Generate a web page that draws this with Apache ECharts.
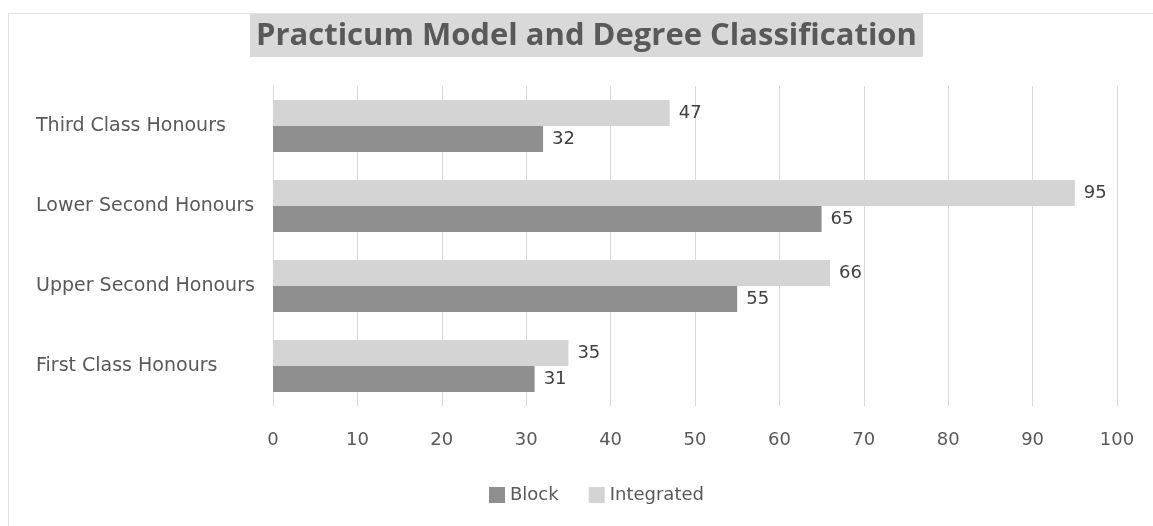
<!DOCTYPE html>
<html><head><meta charset="utf-8">
<script src="https://cdn.jsdelivr.net/npm/echarts@6/dist/echarts.min.js"></script>
<style>html,body{margin:0;padding:0;background:#fff}#c{width:1153px;height:526px}
#frame{position:absolute;left:8px;top:13px;width:1160px;height:540px;border:1px solid #e3e3e3;pointer-events:none}</style>
</head><body><div id="c"></div><div id="frame"></div>
<script>
const categories = ["First Class Honours", "Upper Second Honours", "Lower Second Honours", "Third Class Honours"];
const blockValues = [31, 55, 65, 32];
const integratedValues = [35, 66, 95, 47];
const xTicks = {min: 0, max: 100, interval: 10};
const titleText = "Practicum Model and Degree Classification";

const chart = echarts.init(document.getElementById('c'));
const font = '"Open Sans", "Noto Sans", sans-serif';
const font2 = '"DejaVu Sans", sans-serif';
const labelStyle = {show: true, position: 'right', distance: 9, fontFamily: font2, fontSize: 18, color: '#404040'};
chart.setOption({
  animation: false,
  backgroundColor: '#ffffff',
  title: {
    text: titleText, left: 250, top: 13,
    backgroundColor: '#d9d9d9', padding: [7, 6, 4, 6],
    textStyle: {fontFamily: font, fontSize: 31, fontWeight: 'bold', color: '#595959', lineHeight: 33}
  },
  legend: {
    top: 481, left: 484, icon: 'rect', itemWidth: 16, itemHeight: 16, itemGap: 30,
    textStyle: {fontFamily: font2, fontSize: 18, color: '#595959'},
    data: ['Block', 'Integrated']
  },
  grid: {left: 273, right: 36, top: 86, bottom: 120},
  xAxis: {
    type: 'value', min: xTicks.min, max: xTicks.max, interval: xTicks.interval,
    axisLine: {show: false}, axisTick: {show: false},
    splitLine: {lineStyle: {color: '#d9d9d9', width: 1}},
    axisLabel: {fontFamily: font2, fontSize: 18, color: '#595959', margin: 25}
  },
  yAxis: {
    type: 'category', data: categories,
    axisLine: {show: true, lineStyle: {color: '#d9d9d9'}}, axisTick: {show: false},
    axisLabel: {fontFamily: font2, fontSize: 19, color: '#595959', align: 'left', margin: 237}
  },
  series: [
    {name: 'Integrated', type: 'bar', data: integratedValues, barGap: '0%', barCategoryGap: '35%',
     itemStyle: {color: '#d4d4d4'}, label: labelStyle},
    {name: 'Block', type: 'bar', data: blockValues, barGap: '0%', barCategoryGap: '35%',
     itemStyle: {color: '#8f8f8f'}, label: labelStyle}
  ]
});
</script></body></html>
